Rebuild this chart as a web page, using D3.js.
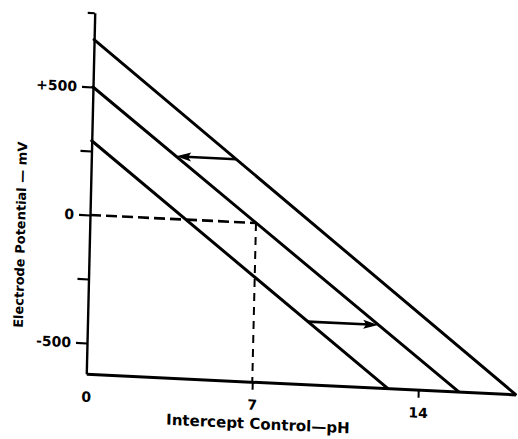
<!DOCTYPE html>
<html>
<head>
<meta charset="utf-8">
<script src="https://cdn.jsdelivr.net/npm/d3@7/dist/d3.min.js"></script>
<style>
  html, body { margin: 0; padding: 0; background: #fff; }
  svg { display: block; }
  text { font-family: "DejaVu Sans", "Liberation Sans", sans-serif; font-weight: bold; fill: #000; }
</style>
</head>
<body>
<svg id="chart" width="518" height="439"></svg>
<script>
// Electrode potential (mV) versus pH: three parallel response lines
const lineNames    = ["upper", "middle", "lower"];
const lineStartMV  = [685, 500, 290];     // potential at pH 0
const lineEndPH    = [18.1, 15.7, 12.7];  // pH where each line meets the bottom axis

// Axis ranges and ticks
const phDomain  = [0, 18.1];
const mvDomain  = [-620, 790];
const yTicks    = [500, 250, 0, -250, -500];
const yTickText = ["+500", "", "0", "", "-500"];
const xTicks    = [0, 7, 14];
const xTickText = ["0", "7", "14"];

// Intercept control point (pH 7, 0 mV) shown with dashed guides
const interceptPH = [7];
const interceptMV = [0];

// Shift arrows: [pH from, pH to, potential]
const arrowFromPH = [6.10, 9.28];
const arrowToPH   = [3.57, 12.25];
const arrowMV     = [245, -375];

const svg = d3.select("#chart");
svg.append("rect").attr("width", 518).attr("height", 439).attr("fill", "#fff");

const W = 18.1 * 23.71;
const H = 1410 * 0.256;
const x = d3.scaleLinear().domain(phDomain).range([0, W]);
const y = d3.scaleLinear().domain(mvDomain).range([H, 0]);

// Plot frame is slightly sheared, as in the printed figure
const g = svg.append("g")
  .attr("transform", "matrix(1,0.0481,-0.0234,1,94.74,12.76)");

// Y axis
const yAxis = d3.axisLeft(y)
  .tickValues([mvDomain[1], ...yTicks])
  .tickSize(11)
  .tickSizeOuter(0)
  .tickPadding(5)
  .tickFormat(d => { const i = yTicks.indexOf(d); return i >= 0 ? yTickText[i] : ""; });
const ya = g.append("g").call(yAxis);
ya.select(".domain").attr("stroke", "#000").attr("stroke-width", 2.4);
ya.selectAll(".tick line").attr("stroke", "#000").attr("stroke-width", 2.2)
  .filter(d => d === mvDomain[1]).attr("x2", -7);
ya.selectAll(".tick text").attr("font-size", 14).attr("font-family", null);

// X axis
const xAxis = d3.axisBottom(x)
  .tickValues(xTicks)
  .tickSize(8)
  .tickSizeOuter(0)
  .tickPadding(10)
  .tickFormat((d, i) => xTickText[i]);
const xa = g.append("g").attr("transform", `translate(0,${H})`).call(xAxis);
xa.select(".domain").attr("stroke", "#000").attr("stroke-width", 3);
xa.selectAll(".tick line").attr("stroke", "#000").attr("stroke-width", 2)
  .filter(d => d === 0).remove();
xa.selectAll(".tick text").attr("font-size", 14).attr("font-family", null);

// Dashed guides to the intercept point
g.append("line")
  .attr("x1", x(0)).attr("y1", y(interceptMV[0]))
  .attr("x2", x(interceptPH[0])).attr("y2", y(interceptMV[0]))
  .attr("stroke", "#000").attr("stroke-width", 2.6).attr("stroke-dasharray", "11,5");
g.append("line")
  .attr("x1", x(interceptPH[0])).attr("y1", y(interceptMV[0]))
  .attr("x2", x(interceptPH[0])).attr("y2", y(mvDomain[0]))
  .attr("stroke", "#000").attr("stroke-width", 2).attr("stroke-dasharray", "8,6");

// Response lines
lineNames.forEach((name, i) => {
  g.append("line")
    .attr("class", "response " + name)
    .attr("x1", x(0)).attr("y1", y(lineStartMV[i]))
    .attr("x2", x(lineEndPH[i])).attr("y2", y(mvDomain[0]))
    .attr("stroke", "#000").attr("stroke-width", 3).attr("stroke-linecap", "round");
});

// Shift arrows
arrowMV.forEach((mv, i) => {
  const x1 = x(arrowFromPH[i]), x2 = x(arrowToPH[i]), yy = y(mv);
  const dir = Math.sign(x2 - x1);
  const headLen = 15, headHalf = 4.5;
  g.append("line")
    .attr("x1", x1).attr("y1", yy)
    .attr("x2", x2 - dir * headLen * 0.6).attr("y2", yy)
    .attr("stroke", "#000").attr("stroke-width", 2.6);
  g.append("path")
    .attr("d", `M${x2},${yy} L${x2 - dir * headLen},${yy - headHalf} L${x2 - dir * headLen * 0.8},${yy} L${x2 - dir * headLen},${yy + headHalf} Z`)
    .attr("fill", "#000");
});

// Axis titles
g.append("text")
  .attr("transform", `translate(-69,${y(-90)}) rotate(-90)`)
  .attr("text-anchor", "middle")
  .attr("dominant-baseline", "central")
  .attr("font-size", 13)
  .text("Electrode Potential — mV");

g.append("text")
  .attr("x", x(7.28)).attr("y", H + 47)
  .attr("text-anchor", "middle")
  .attr("font-size", 15)
  .text("Intercept Control—pH");
</script>
</body>
</html>
